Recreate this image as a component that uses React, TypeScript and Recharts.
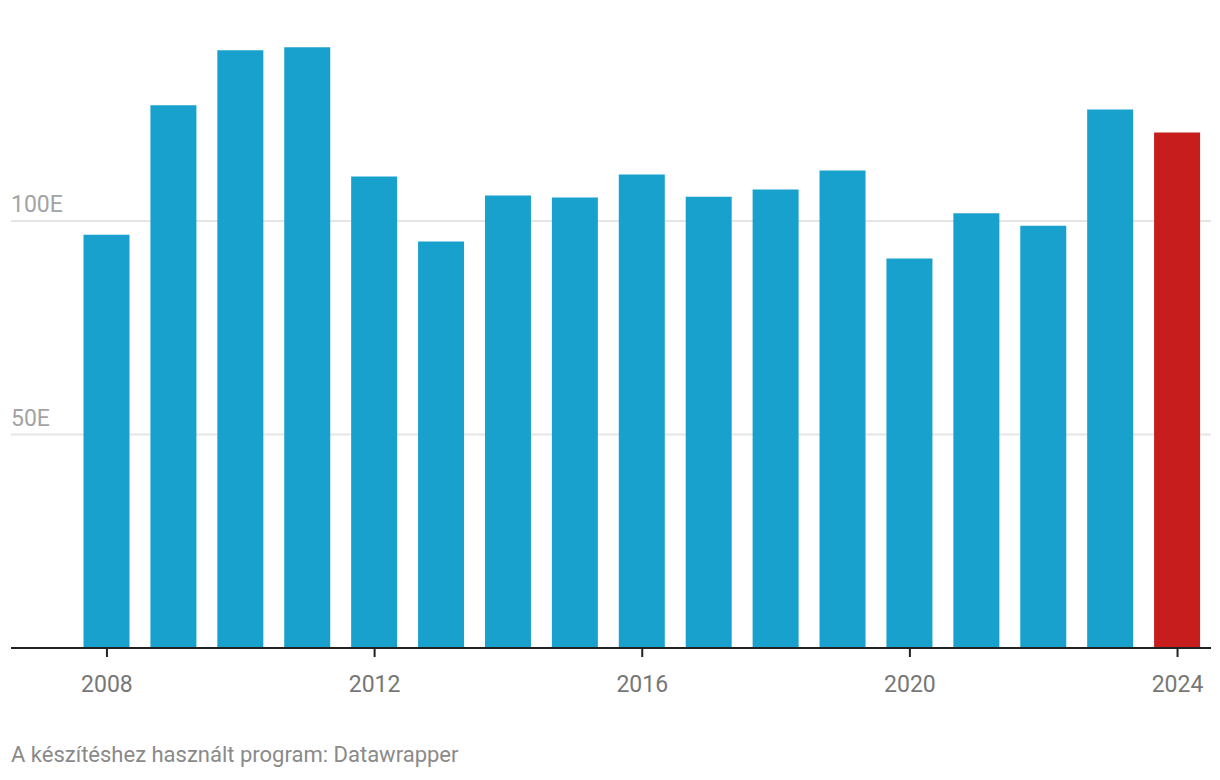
import React from "react";
import { BarChart, Bar, XAxis, YAxis, CartesianGrid, Cell } from "recharts";

const years = ["2008","2009","2010","2011","2012","2013","2014","2015","2016","2017","2018","2019","2020","2021","2022","2023","2024"];
const values = [96.8,127.1,140.0,140.7,110.4,95.2,106.0,105.5,110.9,105.7,107.4,111.8,91.2,101.8,98.9,126.1,120.7];
const yTicks = [50, 100];
const yTickLabels: Record<number, string> = { 50: "50E", 100: "100E" };
const highlightYear = "2024";
const footer = "A készítéshez használt program: Datawrapper";

const data = years.map((y, i) => ({ year: y, value: values[i] }));

const BLUE = "#19a1cd";
const RED = "#c71d1d";
const FONT = "Roboto, 'Noto Sans', sans-serif";

const renderYTick = (props: any) => {
  const { y, payload } = props;
  return (
    <text x={11} y={y - 9} fill="#a3a3a3" fontSize={23} fontFamily={FONT} textAnchor="start">
      {yTickLabels[payload.value]}
    </text>
  );
};

const renderXTick = (props: any) => {
  const { x, y, payload } = props;
  return (
    <g>
      <line x1={x} x2={x} y1={y - 8} y2={y + 1} stroke="#222" strokeWidth={2} />
      <text x={x} y={y + 36} fill="#777" fontSize={23} fontFamily={FONT} textAnchor="middle">
        {payload.value}
      </text>
    </g>
  );
};

export default function App() {
  return (
    <div style={{ position: "absolute", left: 0, top: 0, width: 1220, height: 780, background: "#fff" }}>
      <BarChart
        width={1220}
        height={720}
        data={data}
        margin={{ top: 7.5, right: 9, bottom: 12, left: 10 }}
      >
        <CartesianGrid vertical={false} horizontalValues={yTicks} stroke="#e5e5e5" strokeWidth={2} />
        <YAxis
          domain={[0, 150]}
          ticks={yTicks}
          width={1}
          axisLine={false}
          tickLine={false}
          tick={renderYTick}
        />
        <XAxis
          dataKey="year"
          height={60}
          interval={3}
          padding={{ left: 62.5, right: 0 }}
          axisLine={{ stroke: "#222", strokeWidth: 2 }}
          tickLine={false}
          tick={renderXTick}
        />
        <Bar dataKey="value" barSize={46} isAnimationActive={false}>
          {data.map((d) => (
            <Cell key={d.year} fill={d.year === highlightYear ? RED : BLUE} />
          ))}
        </Bar>
      </BarChart>
      <div
        style={{
          position: "absolute",
          left: 11,
          top: 742,
          fontFamily: FONT,
          fontSize: 22,
          color: "#8a8a8a",
          whiteSpace: "nowrap",
        }}
      >
        {footer}
      </div>
    </div>
  );
}
